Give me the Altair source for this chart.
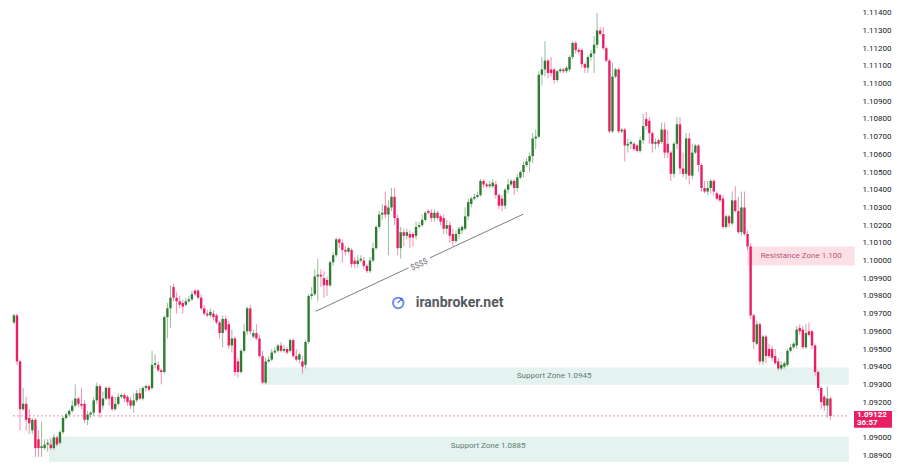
import altair as alt
import pandas as pd

# ---------------- candle data (EUR/USD style prices) ----------------
opens = [
    1.0965, 1.0969, 1.0943, 1.0916, 1.0919, 1.0911, 1.0904, 1.0910, 1.0899, 1.0894,
    1.0894, 1.0896, 1.0896, 1.0894, 1.0900, 1.0897, 1.0903, 1.0911, 1.0913, 1.0915,
    1.0918, 1.0922, 1.0919, 1.0919, 1.0910, 1.0913, 1.0914, 1.0921, 1.0929, 1.0918,
    1.0922, 1.0928, 1.0923, 1.0916, 1.0919, 1.0923, 1.0924, 1.0923, 1.0921, 1.0918,
    1.0921, 1.0925, 1.0922, 1.0928, 1.0929, 1.0928, 1.0941, 1.0941, 1.0938, 1.0937,
    1.0968, 1.0973, 1.0985, 1.0979, 1.0977, 1.0976, 1.0975, 1.0977, 1.0978, 1.0983,
    1.0983, 1.0979, 1.0973, 1.0970, 1.0969, 1.0970, 1.0969, 1.0965, 1.0959, 1.0967,
    1.0964, 1.0952, 1.0956, 1.0943, 1.0937, 1.0949, 1.0960, 1.0973, 1.0957, 1.0959,
    1.0956, 1.0946, 1.0931, 1.0943, 1.0944, 1.0948, 1.0949, 1.0952, 1.0949, 1.0950,
    1.0949, 1.0955, 1.0946, 1.0944, 1.0943, 1.0941, 1.0954, 1.0980, 1.0981, 1.0991,
    1.0992, 1.0990, 1.0989, 1.0986, 1.0999, 1.1003, 1.1012, 1.1010, 1.1006, 1.1005,
    1.1006, 1.1000, 1.0998, 1.1000, 1.1000, 1.0997, 1.0994, 1.1000, 1.1007, 1.1019,
    1.1026, 1.1031, 1.1026, 1.1030, 1.1036, 1.1024, 1.1007, 1.1016, 1.1014, 1.1015,
    1.1015, 1.1014, 1.1019, 1.1020, 1.1023, 1.1028, 1.1027, 1.1024, 1.1027, 1.1025,
    1.1024, 1.1018, 1.1020, 1.1015, 1.1011, 1.1015, 1.1017, 1.1018, 1.1025, 1.1032,
    1.1035, 1.1036, 1.1037, 1.1045, 1.1043, 1.1042, 1.1042, 1.1043, 1.1037, 1.1035,
    1.1031, 1.1040, 1.1043, 1.1045, 1.1041, 1.1047, 1.1050, 1.1054, 1.1056, 1.1059,
    1.1069, 1.1070, 1.1105, 1.1108, 1.1113, 1.1108, 1.1108, 1.1102, 1.1107, 1.1108,
    1.1107, 1.1108, 1.1115, 1.1123, 1.1119, 1.1119, 1.1111, 1.1109, 1.1115, 1.1117,
    1.1122, 1.1130, 1.1128, 1.1120, 1.1113, 1.1073, 1.1104, 1.1108, 1.1073, 1.1074,
    1.1065, 1.1066, 1.1066, 1.1065, 1.1062, 1.1068, 1.1080, 1.1079, 1.1072, 1.1066,
    1.1068, 1.1067, 1.1074, 1.1066, 1.1061, 1.1049, 1.1066, 1.1077, 1.1052, 1.1049,
    1.1069, 1.1048, 1.1061, 1.1065, 1.1054, 1.1041, 1.1039, 1.1041, 1.1045, 1.1038,
    1.1037, 1.1035, 1.1019, 1.1025, 1.1021, 1.1034, 1.1028, 1.1016, 1.1030, 1.1015,
    1.1008, 1.0969, 1.0953, 1.0964, 1.0943, 1.0957, 1.0950, 1.0950, 1.0946, 1.0943,
    1.0939, 1.0940, 1.0941, 1.0949, 1.0951, 1.0952, 1.0962, 1.0961, 1.0951, 1.0960,
    1.0960, 1.0952, 1.0937, 1.0928, 1.0923, 1.0918, 1.0922,
]
highs = [
    1.0970, 1.0970, 1.0944, 1.0928, 1.0923, 1.0916, 1.0911, 1.0911, 1.0904, 1.0909,
    1.0899, 1.0899, 1.0899, 1.0902, 1.0901, 1.0904, 1.0912, 1.0914, 1.0916, 1.0921,
    1.0930, 1.0923, 1.0928, 1.0921, 1.0915, 1.0915, 1.0923, 1.0931, 1.0930, 1.0926,
    1.0929, 1.0929, 1.0924, 1.0923, 1.0925, 1.0925, 1.0925, 1.0924, 1.0923, 1.0925,
    1.0927, 1.0928, 1.0929, 1.0930, 1.0930, 1.0949, 1.0947, 1.0943, 1.0939, 1.0969,
    1.0976, 1.0986, 1.0987, 1.0982, 1.0980, 1.0978, 1.0979, 1.0980, 1.0983, 1.0984,
    1.0984, 1.0981, 1.0975, 1.0972, 1.0973, 1.0972, 1.0970, 1.0966, 1.0969, 1.0969,
    1.0966, 1.0961, 1.0957, 1.0945, 1.0950, 1.0964, 1.0974, 1.0975, 1.0961, 1.0964,
    1.0958, 1.0949, 1.0945, 1.0946, 1.0950, 1.0951, 1.0953, 1.0954, 1.0952, 1.0951,
    1.0956, 1.0956, 1.0950, 1.0948, 1.0946, 1.0955, 1.0981, 1.0985, 1.0995, 1.1001,
    1.0995, 1.0994, 1.0991, 1.1000, 1.1005, 1.1013, 1.1013, 1.1012, 1.1008, 1.1008,
    1.1007, 1.1002, 1.1003, 1.1003, 1.1002, 1.0998, 1.1002, 1.1010, 1.1020, 1.1028,
    1.1032, 1.1039, 1.1034, 1.1041, 1.1041, 1.1026, 1.1019, 1.1018, 1.1018, 1.1017,
    1.1016, 1.1022, 1.1022, 1.1026, 1.1028, 1.1029, 1.1029, 1.1029, 1.1028, 1.1026,
    1.1026, 1.1023, 1.1022, 1.1018, 1.1017, 1.1019, 1.1020, 1.1030, 1.1035, 1.1036,
    1.1038, 1.1039, 1.1046, 1.1046, 1.1044, 1.1045, 1.1046, 1.1045, 1.1038, 1.1037,
    1.1041, 1.1046, 1.1046, 1.1046, 1.1049, 1.1051, 1.1056, 1.1058, 1.1061, 1.1072,
    1.1074, 1.1107, 1.1115, 1.1124, 1.1114, 1.1115, 1.1109, 1.1108, 1.1109, 1.1109,
    1.1110, 1.1116, 1.1124, 1.1124, 1.1120, 1.1120, 1.1112, 1.1116, 1.1119, 1.1127,
    1.1140, 1.1132, 1.1132, 1.1121, 1.1114, 1.1112, 1.1109, 1.1109, 1.1075, 1.1075,
    1.1069, 1.1068, 1.1067, 1.1066, 1.1070, 1.1083, 1.1084, 1.1081, 1.1073, 1.1069,
    1.1069, 1.1078, 1.1078, 1.1074, 1.1062, 1.1067, 1.1081, 1.1081, 1.1061, 1.1072,
    1.1072, 1.1066, 1.1066, 1.1066, 1.1055, 1.1045, 1.1045, 1.1046, 1.1046, 1.1039,
    1.1038, 1.1037, 1.1026, 1.1026, 1.1039, 1.1042, 1.1036, 1.1039, 1.1039, 1.1017,
    1.1010, 1.0970, 1.0966, 1.0965, 1.0958, 1.0958, 1.0953, 1.0952, 1.0950, 1.0945,
    1.0943, 1.0943, 1.0950, 1.0953, 1.0954, 1.0963, 1.0964, 1.0963, 1.0964, 1.0965,
    1.0961, 1.0953, 1.0938, 1.0929, 1.0924, 1.0929, 1.0923,
]
lows = [
    1.0964, 1.0941, 1.0904, 1.0915, 1.0904, 1.0902, 1.0902, 1.0889, 1.0889, 1.0889,
    1.0893, 1.0892, 1.0893, 1.0893, 1.0895, 1.0896, 1.0902, 1.0910, 1.0912, 1.0914,
    1.0917, 1.0917, 1.0916, 1.0908, 1.0907, 1.0911, 1.0912, 1.0919, 1.0911, 1.0916,
    1.0921, 1.0918, 1.0915, 1.0915, 1.0918, 1.0922, 1.0920, 1.0918, 1.0916, 1.0914,
    1.0920, 1.0921, 1.0921, 1.0926, 1.0926, 1.0927, 1.0939, 1.0937, 1.0930, 1.0936,
    1.0956, 1.0962, 1.0977, 1.0970, 1.0973, 1.0970, 1.0974, 1.0976, 1.0977, 1.0980,
    1.0978, 1.0972, 1.0969, 1.0968, 1.0968, 1.0966, 1.0964, 1.0956, 1.0951, 1.0960,
    1.0950, 1.0948, 1.0935, 1.0934, 1.0936, 1.0948, 1.0958, 1.0958, 1.0956, 1.0955,
    1.0945, 1.0930, 1.0930, 1.0942, 1.0943, 1.0947, 1.0948, 1.0948, 1.0948, 1.0947,
    1.0948, 1.0945, 1.0943, 1.0942, 1.0936, 1.0939, 1.0953, 1.0978, 1.0980, 1.0977,
    1.0985, 1.0979, 1.0980, 1.0985, 1.0997, 1.1002, 1.1007, 1.0999, 1.1003, 1.1004,
    1.0996, 1.0996, 1.0996, 1.0999, 1.0995, 1.0993, 1.0993, 1.0999, 1.1006, 1.1018,
    1.1023, 1.1024, 1.1003, 1.1028, 1.1020, 1.1003, 1.1001, 1.1008, 1.1012, 1.1007,
    1.1008, 1.1012, 1.1018, 1.1019, 1.1022, 1.1026, 1.1022, 1.1022, 1.1023, 1.1020,
    1.1015, 1.1015, 1.1010, 1.1008, 1.1010, 1.1012, 1.1015, 1.1017, 1.1023, 1.1030,
    1.1034, 1.1035, 1.1036, 1.1041, 1.1041, 1.1041, 1.1041, 1.1035, 1.1029, 1.1028,
    1.1029, 1.1038, 1.1042, 1.1037, 1.1039, 1.1046, 1.1047, 1.1053, 1.1050, 1.1055,
    1.1063, 1.1069, 1.1099, 1.1104, 1.1103, 1.1104, 1.1100, 1.1101, 1.1106, 1.1106,
    1.1106, 1.1107, 1.1114, 1.1117, 1.1117, 1.1109, 1.1106, 1.1106, 1.1113, 1.1106,
    1.1120, 1.1127, 1.1119, 1.1112, 1.1072, 1.1072, 1.1103, 1.1072, 1.1072, 1.1056,
    1.1061, 1.1063, 1.1062, 1.1061, 1.1061, 1.1066, 1.1074, 1.1066, 1.1061, 1.1063,
    1.1064, 1.1066, 1.1058, 1.1058, 1.1045, 1.1047, 1.1063, 1.1049, 1.1047, 1.1046,
    1.1043, 1.1046, 1.1060, 1.1050, 1.1039, 1.1038, 1.1037, 1.1038, 1.1037, 1.1034,
    1.1033, 1.1018, 1.1018, 1.1019, 1.1020, 1.1027, 1.1015, 1.1014, 1.1014, 1.1006,
    1.0967, 1.0950, 1.0952, 1.0941, 1.0941, 1.0942, 1.0945, 1.0943, 1.0941, 1.0938,
    1.0938, 1.0939, 1.0940, 1.0948, 1.0950, 1.0950, 1.0958, 1.0950, 1.0950, 1.0957,
    1.0950, 1.0935, 1.0926, 1.0916, 1.0915, 1.0911, 1.0910,
]
closes = [
    1.0969, 1.0943, 1.0916, 1.0919, 1.0910, 1.0908, 1.0910, 1.0894, 1.0894, 1.0895,
    1.0896, 1.0897, 1.0894, 1.0900, 1.0896, 1.0903, 1.0911, 1.0913, 1.0915, 1.0918,
    1.0922, 1.0919, 1.0918, 1.0910, 1.0913, 1.0914, 1.0921, 1.0929, 1.0914, 1.0922,
    1.0928, 1.0922, 1.0916, 1.0919, 1.0923, 1.0924, 1.0922, 1.0920, 1.0918, 1.0921,
    1.0925, 1.0922, 1.0928, 1.0929, 1.0927, 1.0941, 1.0942, 1.0938, 1.0937, 1.0968,
    1.0973, 1.0979, 1.0979, 1.0977, 1.0975, 1.0974, 1.0977, 1.0978, 1.0981, 1.0981,
    1.0979, 1.0973, 1.0970, 1.0969, 1.0971, 1.0968, 1.0965, 1.0959, 1.0967, 1.0961,
    1.0952, 1.0956, 1.0937, 1.0937, 1.0949, 1.0960, 1.0973, 1.0960, 1.0959, 1.0956,
    1.0946, 1.0931, 1.0943, 1.0944, 1.0948, 1.0949, 1.0952, 1.0949, 1.0950, 1.0948,
    1.0955, 1.0946, 1.0944, 1.0947, 1.0940, 1.0954, 1.0980, 1.0981, 1.0991, 1.0992,
    1.0991, 1.0986, 1.0986, 1.0999, 1.1003, 1.1012, 1.1010, 1.1006, 1.1005, 1.1007,
    1.0998, 1.0998, 1.1000, 1.1001, 1.0997, 1.0994, 1.1000, 1.1007, 1.1019, 1.1026,
    1.1027, 1.1026, 1.1030, 1.1036, 1.1024, 1.1007, 1.1016, 1.1014, 1.1016, 1.1013,
    1.1013, 1.1019, 1.1020, 1.1023, 1.1027, 1.1027, 1.1024, 1.1027, 1.1024, 1.1022,
    1.1018, 1.1020, 1.1014, 1.1011, 1.1015, 1.1018, 1.1019, 1.1025, 1.1033, 1.1035,
    1.1036, 1.1037, 1.1045, 1.1043, 1.1042, 1.1043, 1.1044, 1.1037, 1.1031, 1.1031,
    1.1040, 1.1043, 1.1045, 1.1041, 1.1047, 1.1050, 1.1054, 1.1056, 1.1059, 1.1069,
    1.1070, 1.1105, 1.1108, 1.1113, 1.1106, 1.1106, 1.1102, 1.1107, 1.1108, 1.1107,
    1.1109, 1.1115, 1.1123, 1.1119, 1.1118, 1.1111, 1.1109, 1.1115, 1.1117, 1.1122,
    1.1130, 1.1128, 1.1120, 1.1113, 1.1073, 1.1104, 1.1108, 1.1073, 1.1074, 1.1065,
    1.1066, 1.1067, 1.1063, 1.1062, 1.1068, 1.1076, 1.1076, 1.1072, 1.1066, 1.1067,
    1.1066, 1.1074, 1.1061, 1.1061, 1.1049, 1.1066, 1.1077, 1.1052, 1.1049, 1.1069,
    1.1048, 1.1061, 1.1065, 1.1054, 1.1041, 1.1039, 1.1041, 1.1045, 1.1039, 1.1035,
    1.1034, 1.1019, 1.1025, 1.1021, 1.1034, 1.1028, 1.1016, 1.1030, 1.1015, 1.1008,
    1.0969, 1.0954, 1.0964, 1.0943, 1.0957, 1.0946, 1.0946, 1.0945, 1.0942, 1.0939,
    1.0941, 1.0942, 1.0949, 1.0951, 1.0953, 1.0961, 1.0960, 1.0951, 1.0959, 1.0958,
    1.0952, 1.0937, 1.0928, 1.0920, 1.0918, 1.0922, 1.09122,
]

# price axis tick labels (1.09100 is hidden behind the live-price tag)
tick_values = [
    1.089, 1.090, 1.092, 1.093, 1.094, 1.095, 1.096, 1.097, 1.098, 1.099,
    1.100, 1.101, 1.102, 1.103, 1.104, 1.105, 1.106, 1.107, 1.108, 1.109,
    1.110, 1.111, 1.112, 1.113, 1.114,
]

# zones
zone_names = ["Support Zone 1.0945", "Support Zone 1.0885", "Resistance Zone 1.100"]
zone_start = [81.2, 11.4, 238.9]
zone_end = [272.0, 272.0, 273.9]
zone_low = [1.09298, 1.0880, 1.09972]
zone_high = [1.09395, 1.09006, 1.10079]
zone_fill = ["#e4f3ef", "#e4f3ef", "#fde0e6"]
zone_label_x = [176.0, 154.5, 256.5]
zone_label_y = [1.09347, 1.08953, 1.10025]
zone_text_color = ["#5c7a72", "#5c7a72", "#b8547c"]

# trendline (two pieces around its "$$$$" label)
trend_x1 = [98.3, 135.5]
trend_x2 = [128.6, 165.9]
trend_y1 = [1.09713, 1.10015]
trend_y2 = [1.09959, 1.10262]

last_price = 1.09122

# ---------------- build tables ----------------
n = min(len(opens), len(highs), len(lows), len(closes))
candles = pd.DataFrame({
    "i": list(range(n)),
    "open": opens[:n],
    "high": highs[:n],
    "low": lows[:n],
    "close": closes[:n],
})
candles["dir"] = ["up" if c >= o else "down" for o, c in zip(candles["open"], candles["close"])]

zones = pd.DataFrame({
    "name": zone_names, "x1": zone_start, "x2": zone_end,
    "lo": zone_low, "hi": zone_high, "fill": zone_fill,
    "lx": zone_label_x, "ly": zone_label_y, "tc": zone_text_color,
})
trend = pd.DataFrame({"x1": trend_x1, "x2": trend_x2, "y1": trend_y1, "y2": trend_y2})

UP = "#2e7d32"
DOWN = "#e91e63"
FONT = "Roboto"

x_scale = alt.Scale(domain=[-0.3, 271.4], nice=False, zero=False)
y_scale = alt.Scale(domain=[1.08884, 1.11416], nice=False, zero=False)
y_axis = alt.Axis(
    orient="right", values=tick_values, format=".5f", domain=False, ticks=False,
    grid=False, labelPadding=10, labelFontSize=8, labelColor="#131722",
    labelFont=FONT, labelOverlap=False, title=None,
)


def X(f):
    return alt.X(f, type="quantitative", scale=x_scale, axis=None)


def Y(f):
    return alt.Y(f, type="quantitative", scale=y_scale, axis=y_axis)


color = alt.Color("dir:N", scale=alt.Scale(domain=["up", "down"], range=[UP, DOWN]), legend=None)

zone_rects = alt.Chart(zones).mark_rect().encode(
    x=X("x1"), x2="x2", y=Y("lo"), y2="hi",
    color=alt.Color("fill:N", scale=None),
)
zone_labels = alt.Chart(zones).mark_text(font=FONT, fontSize=8, baseline="middle").encode(
    x=X("lx"), y=Y("ly"), text="name:N", color=alt.Color("tc:N", scale=None),
)

price_line = alt.Chart(pd.DataFrame({"p": [last_price], "a": [-0.3], "b": [272.0]})).mark_rule(
    color="#f48fb1", strokeDash=[2, 2], strokeWidth=1
).encode(x=X("a"), x2="b", y=Y("p"))

trend_lines = alt.Chart(trend).mark_rule(color="#7b7e88", strokeWidth=1).encode(
    x=X("x1"), x2="x2", y=Y("y1"), y2="y2"
)
trend_label = alt.Chart(pd.DataFrame({"x": [132.1], "y": [1.09975], "t": ["$$$$"]})).mark_text(
    font=FONT, fontSize=8, angle=335, color="#6b6e78", baseline="middle"
).encode(x=X("x"), y=Y("y"), text="t:N")

wicks = alt.Chart(candles).mark_rule(strokeWidth=1, opacity=0.5).encode(
    x=X("i"), y=Y("low"), y2="high", color=color
)
bodies = alt.Chart(candles).mark_bar(size=2.4).encode(
    x=X("i"), y=Y("open"), y2="close", color=color
)

logo_text = alt.Chart(pd.DataFrame({"x": [145.2], "y": [1.0976], "t": ["iranbroker.net"]})).mark_text(
    font=FONT, fontSize=14, fontWeight="bold", color="#555a60", baseline="middle"
).encode(x=X("x"), y=Y("y"), text="t:N")
logo_icon = alt.Chart(pd.DataFrame({"x": [125.2], "y": [1.0976]})).mark_point(
    shape="circle", filled=False, size=110, strokeWidth=2, color="#3366f0"
).encode(x=X("x"), y=Y("y"))
logo_arrow = alt.Chart(pd.DataFrame({"x": [125.6], "y": [1.0977], "t": ["↗"]})).mark_text(
    font="DejaVu Sans", fontSize=9, fontWeight="bold", color="#3366f0", baseline="middle"
).encode(x=X("x"), y=Y("y"), text="t:N")

tag_box = alt.Chart(pd.DataFrame({"a": [1.09150], "b": [1.09055]})).mark_rect(color="#e91e63").encode(
    x=alt.value(846), x2=alt.value(884), y=Y("a"), y2="b"
)
tag_text = alt.Chart(pd.DataFrame({"y": [1.09127, 1.09080], "t": ["1.09122", "36:57"]})).mark_text(
    font=FONT, fontSize=8, fontWeight="bold", color="white", align="left", baseline="middle"
).encode(x=alt.value(849), y=Y("y"), text="t:N")

chart = alt.layer(
    zone_rects, zone_labels, price_line, trend_lines, trend_label,
    wicks, bodies, logo_icon, logo_arrow, logo_text, tag_box, tag_text,
).properties(
    width=844, height=448,
    autosize=alt.AutoSizeParams(type="none"),
    padding={"left": 0, "top": 2, "right": 40, "bottom": 4},
    background="white",
).configure_view(stroke=None)

chart.save("out.html", embed_options={"renderer": "svg", "actions": False})
